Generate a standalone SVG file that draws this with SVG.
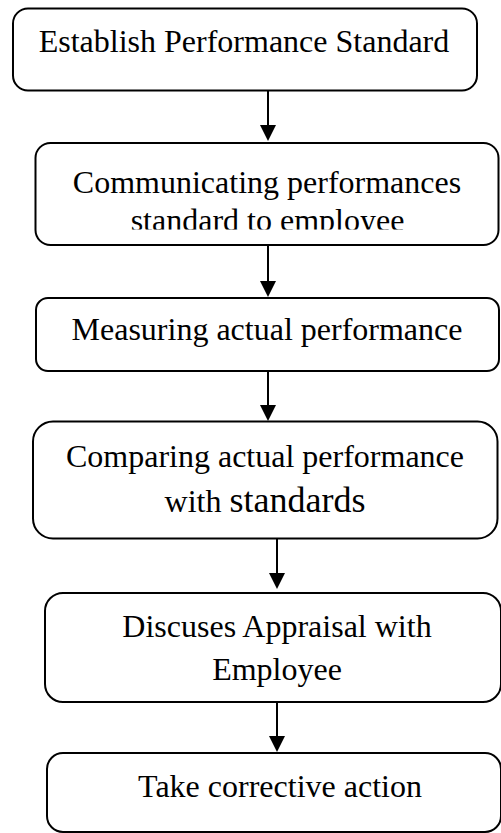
<svg xmlns="http://www.w3.org/2000/svg" width="501" height="833" viewBox="0 0 501 833">
<style>
.box{fill:#fff;stroke:#000;stroke-width:2}
.t{font-family:"Liberation Serif","Times New Roman",serif;font-size:32px;fill:#000;text-anchor:middle}
.c{stroke:#000;stroke-width:2;fill:none;marker-end:url(#ah)}
</style>
<defs>
<marker id="ah" viewBox="0 0 16 16" refX="6" refY="8" markerWidth="16" markerHeight="16" markerUnits="userSpaceOnUse" orient="auto">
<path d="M0,0 L16,8 L0,16 z" fill="#000"/>
</marker>
<clipPath id="clip2"><rect x="36" y="144" width="462" height="85.5"/></clipPath>
</defs>
<rect width="501" height="833" fill="#fff"/>
<g id="connectors">
<line class="c" x1="268" y1="91" x2="268" y2="131"/>
<line class="c" x1="268" y1="245" x2="268" y2="287"/>
<line class="c" x1="268" y1="371" x2="268" y2="411"/>
<line class="c" x1="277" y1="539" x2="277" y2="579"/>
<line class="c" x1="277" y1="702" x2="277" y2="742"/>
</g>
<g id="n1">
<rect class="box" x="13" y="8.5" width="464" height="82" rx="15"/>
<text class="t" x="244" y="52">Establish Performance Standard</text>
</g>
<g id="n2">
<rect class="box" x="35.5" y="143" width="463" height="102" rx="15"/>
<text class="t" x="267" y="193">Communicating performances</text>
<text class="t" x="267.5" y="231" clip-path="url(#clip2)">standard to employee</text>
</g>
<g id="n3">
<rect class="box" x="36" y="298" width="463" height="73" rx="12"/>
<text class="t" x="267" y="340">Measuring actual performance</text>
</g>
<g id="n4">
<rect class="box" x="33" y="421.5" width="464.5" height="117" rx="20"/>
<text class="t" x="265" y="467">Comparing actual performance</text>
<text class="t" x="265" y="512">with <tspan font-size="36">standards</tspan></text>
</g>
<g id="n5">
<rect class="box" x="45" y="593" width="456" height="109" rx="18"/>
<text class="t" x="277" y="637">Discuses Appraisal with</text>
<text class="t" x="277" y="680">Employee</text>
</g>
<g id="n6">
<rect class="box" x="47" y="753" width="454" height="79" rx="16"/>
<text class="t" x="280" y="797">Take corrective action</text>
</g>
</svg>
